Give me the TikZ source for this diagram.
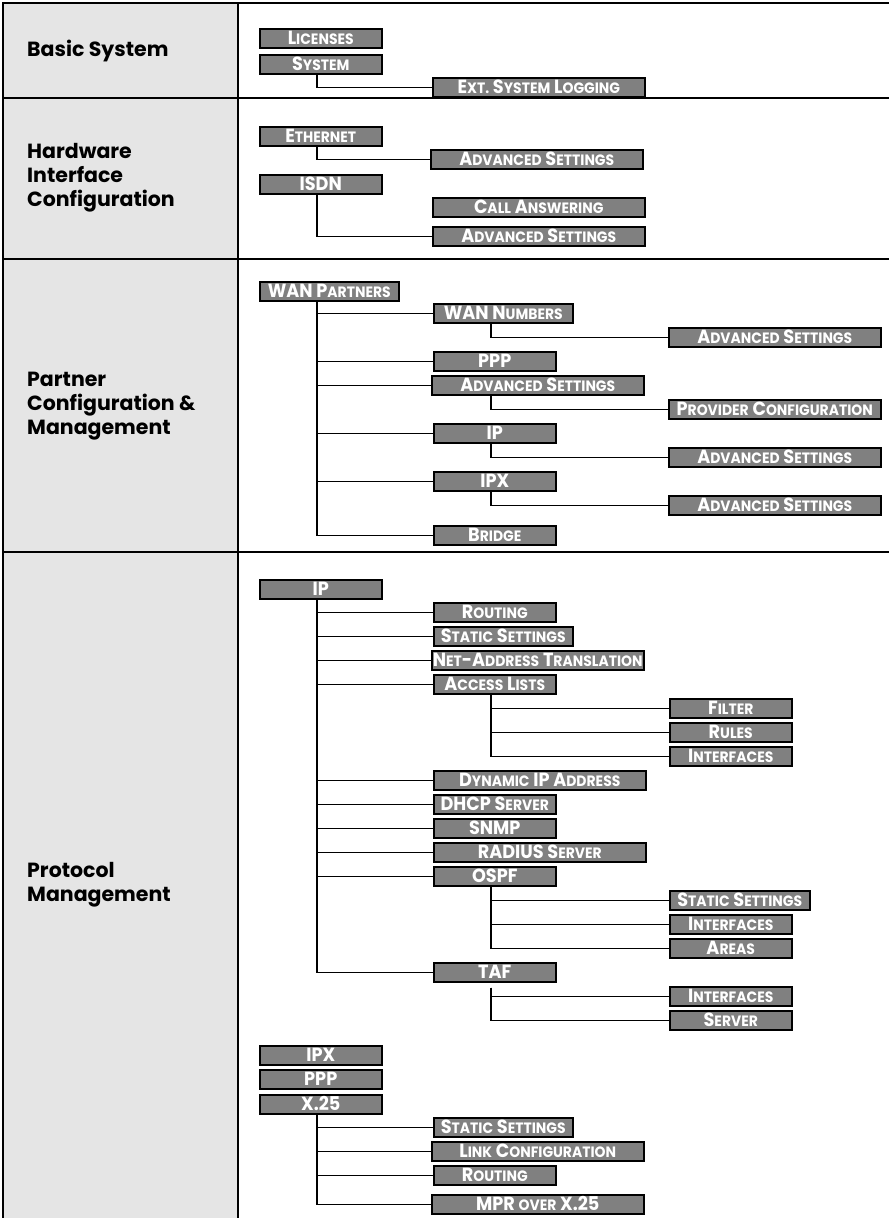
\documentclass[tikz,border=0pt]{standalone}
\usepackage{fontspec}
\newfontfamily\boxfont[FakeStretch=0.93]{Poppins}
\newfontfamily\labelfont{Poppins}
\definecolor{boxgray}{gray}{0.5}
\definecolor{colgray}{gray}{0.9}
% smaller capitals for the small-caps look of the menu entries
\newcommand{\sm}[1]{{\fontsize{15}{15}\selectfont #1}}

\tikzset{
  menubox/.style={draw=black, fill=boxgray, line width=1.5pt,
    minimum width=#1, minimum height=19pt, inner sep=0pt,
    anchor=north west, text=white, text height=13pt, text depth=0pt,
    font=\boxfont\bfseries\fontsize{19}{19}\selectfont},
  link/.style={draw=black, line width=1.5pt},
  rule/.style={draw=black, line width=1.8pt},
  sectionlabel/.style={anchor=west, align=left, inner sep=0pt,
    font=\labelfont\bfseries\fontsize{20.5}{24}\selectfont}
}

\begin{document}
\begin{tikzpicture}[x=1pt, y=-1pt]
\useasboundingbox (0,0) rectangle (889,1218);

% table: grey heading column and rules
\fill[colgray] (3,3) rectangle (238,1218);
\draw[rule] (3,1218) -- (3,3) -- (889,3);
\draw[rule] (238,3) -- (238,1218);
\draw[rule] (3,98) -- (889,98);
\draw[rule] (3,259) -- (889,259);
\draw[rule] (3,552) -- (889,552);

% section headings
\node[sectionlabel] (lbasic) at (27,51) {Basic System};
\node[sectionlabel] (lhw) at (27,178) {Hardware\\Interface\\Configuration};
\node[sectionlabel] (lpartner) at (27,406) {Partner\\Configuration \&\\Management};
\node[sectionlabel] (lproto) at (27,885) {Protocol\\Management};

% trunk positions of the tree levels
\coordinate (t1) at (317,0);
\coordinate (t2) at (491,0);

% --- Basic System
\node[menubox=122] (lic) at (259,28) {L\sm{ICENSES}};
\node[menubox=122] (sys) at (259,54) {S\sm{YSTEM}};
\node[menubox=212] (extlog) at (432,77) {E\sm{XT.} S\sm{YSTEM} L\sm{OGGING}};

% --- Hardware Interface Configuration
\node[menubox=122] (eth) at (259,126) {E\sm{THERNET}};
\node[menubox=212] (ethadv) at (430,149) {A\sm{DVANCED} S\sm{ETTINGS}};
\node[menubox=122] (isdn) at (259,174) {ISDN};
\node[menubox=212] (call) at (432,197) {C\sm{ALL} A\sm{NSWERING}};
\node[menubox=212] (isdnadv) at (432,226) {A\sm{DVANCED} S\sm{ETTINGS}};

% --- Partner Configuration & Management
\node[menubox=139] (wanp) at (259,281) {WAN P\sm{ARTNERS}};
\node[menubox=139] (wann) at (433,303) {WAN N\sm{UMBERS}};
\node[menubox=212] (wannadv) at (668,327) {A\sm{DVANCED} S\sm{ETTINGS}};
\node[menubox=122] (ppp) at (433,351) {PPP};
\node[menubox=212] (padv) at (431,375) {A\sm{DVANCED} S\sm{ETTINGS}};
\node[menubox=212] (prov) at (668,399) {P\sm{ROVIDER} C\sm{ONFIGURATION}};
\node[menubox=122] (pip) at (433,423) {IP};
\node[menubox=212] (pipadv) at (668,447) {A\sm{DVANCED} S\sm{ETTINGS}};
\node[menubox=122] (pipx) at (433,471) {IPX};
\node[menubox=212] (pipxadv) at (668,495) {A\sm{DVANCED} S\sm{ETTINGS}};
\node[menubox=122] (bridge) at (433,525) {B\sm{RIDGE}};

% --- Protocol Management
\node[menubox=122] (ip) at (259,579) {IP};
\node[menubox=122] (rout) at (433,602) {R\sm{OUTING}};
\node[menubox=139] (stat) at (433,626) {S\sm{TATIC} S\sm{ETTINGS}};
\node[menubox=212] (nat) at (431,650) {N\sm{ET}-A\sm{DDRESS} T\sm{RANSLATION}};
\node[menubox=122] (acl) at (433,674) {A\sm{CCESS} L\sm{ISTS}};
\node[menubox=122] (filt) at (669,698) {F\sm{ILTER}};
\node[menubox=122] (rules) at (669,722) {R\sm{ULES}};
\node[menubox=122] (aclif) at (669,746) {I\sm{NTERFACES}};
\node[menubox=212] (dyn) at (433,770) {D\sm{YNAMIC} IP A\sm{DDRESS}};
\node[menubox=122] (dhcp) at (433,794) {DHCP S\sm{ERVER}};
\node[menubox=122] (snmp) at (433,818) {SNMP};
\node[menubox=212] (radius) at (433,842) {RADIUS S\sm{ERVER}};
\node[menubox=122] (ospf) at (433,866) {OSPF};
\node[menubox=140] (ostat) at (669,890) {S\sm{TATIC} S\sm{ETTINGS}};
\node[menubox=122] (oif) at (669,914) {I\sm{NTERFACES}};
\node[menubox=122] (areas) at (669,938) {A\sm{REAS}};
\node[menubox=122] (taf) at (433,962) {TAF};
\node[menubox=122] (tif) at (669,986) {I\sm{NTERFACES}};
\node[menubox=122] (tsrv) at (669,1010) {S\sm{ERVER}};
\node[menubox=122] (ipx) at (259,1045) {IPX};
\node[menubox=122] (ppp2) at (259,1069) {PPP};
\node[menubox=122] (x25) at (259,1094) {X.25};
\node[menubox=139] (xstat) at (433,1117) {S\sm{TATIC} S\sm{ETTINGS}};
\node[menubox=212] (xlink) at (431,1141) {L\sm{INK} C\sm{ONFIGURATION}};
\node[menubox=122] (xrout) at (433,1165) {R\sm{OUTING}};
\node[menubox=212] (mpr) at (431,1194) {MPR \sm{OVER} X.25};

% --- connectors
\draw[link] (sys.south -| t1) |- (extlog.west);
\draw[link] (eth.south -| t1) |- (ethadv.west);
\draw[link] (isdn.south -| t1) |- (isdnadv.west);

\foreach \c in {wann,ppp,padv,pip,pipx,bridge}
  \draw[link] (wanp.south -| t1) |- (\c.west);
\draw[link] (wann.south -| t2) |- (wannadv.west);
\draw[link] (padv.south -| t2) |- (prov.west);
\draw[link] (pip.south -| t2) |- (pipadv.west);
\draw[link] (pipx.south -| t2) |- (pipxadv.west);

\foreach \c in {rout,stat,nat,acl,dyn,dhcp,snmp,radius,ospf,taf}
  \draw[link] (ip.south -| t1) |- (\c.west);
\foreach \c in {filt,rules,aclif}
  \draw[link] (acl.south -| t2) |- (\c.west);
\foreach \c in {ostat,oif,areas}
  \draw[link] (ospf.south -| t2) |- (\c.west);
\foreach \c in {tif,tsrv}
  \draw[link] ([yshift=-5pt]taf.south -| t2) |- (\c.west);
\foreach \c in {xstat,xlink,xrout,mpr}
  \draw[link] (x25.south -| t1) |- (\c.west);
\end{tikzpicture}
\end{document}
